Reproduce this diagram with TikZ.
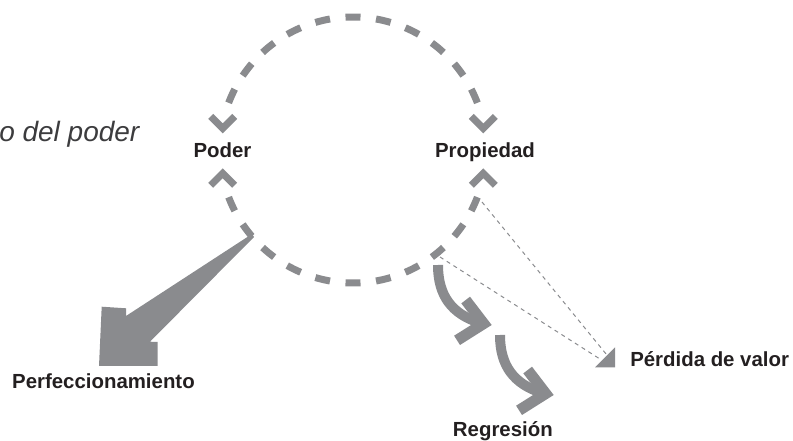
\documentclass[tikz,border=0pt]{standalone}
\usepackage{fontspec}
\setmainfont{Liberation Sans}
\definecolor{arrowgray}{RGB}{138,139,142}
\definecolor{labelink}{RGB}{35,31,32}
\definecolor{titleink}{RGB}{60,60,62}
\tikzset{
  loopdash/.style={draw=arrowgray, line width=5.25pt, line cap=butt},
  chev/.style={draw=arrowgray, line width=5.25pt, line join=miter, miter limit=10},
  tag/.style={font=\bfseries\fontsize{15.3}{18}\selectfont, text=labelink, inner sep=0pt},
  thinguide/.style={draw=arrowgray, line width=0.75pt, dash pattern=on 3pt off 3pt},
  curlshaft/.style={draw=arrowgray, line width=7.5pt},
  chevdown/.pic={\draw[chev] (-12,-12) -- (0,0) -- (12,-12);},
  chevup/.pic={\draw[chev] (-12,12) -- (0,0) -- (12,12);},
  curlarrow/.pic={
    \draw[curlshaft] (0,0) .. controls (0,31) and (14,49) .. (42,58);
    \fill[arrowgray] (53.7,60) -- (32,31.7) -- (23.3,38.4) -- (37.7,57.1)
      -- (16.1,70.7) -- (22,80) -- cycle;
  }
}
\begin{document}
\begin{tikzpicture}[x=0.75pt, y=-0.75pt]
  \useasboundingbox (0,0) rectangle (793,441);
  \coordinate (c) at (353,150);

  % dashed upper and lower arcs of the cycle
  \foreach \k in {-5,...,5} {
    \pgfmathsetmacro{\ta}{-90+13.2*\k-3.23}
    \pgfmathsetmacro{\tb}{90+13.2*\k-3.23}
    \draw[loopdash] (c) ++(\ta:133) arc[start angle=\ta, delta angle=6.46, radius=133];
    \draw[loopdash] (c) ++(\tb:133) arc[start angle=\tb, delta angle=6.46, radius=133];
  }

  % chevrons pointing at the two labels
  \pic at (222.7,128.4) {chevdown};
  \pic at (483.3,128.4) {chevdown};
  \pic at (222.7,173.3) {chevup};
  \pic at (483.3,173.3) {chevup};

  % labels
  \node[tag, anchor=base] (poder) at (222.5,157.7) {Poder};
  \node[tag, anchor=base] (propiedad) at (485,157.7) {Propiedad};
  \node[tag, anchor=base east] (perf) at (195,388.3) {Perfeccionamiento};
  \node[tag, anchor=base east] (regr) at (553,436.5) {Regresión};
  \node[tag, anchor=base west] (perdida) at (630,366.7) {Pérdida de valor};
  \node[anchor=base west, inner sep=0pt, font=\itshape\fontsize{21}{25}\selectfont,
        text=titleink] (cycletitle) at (-1,141.7) {o del poder};

  % wide wedge arrow towards Perfeccionamiento
  \fill[arrowgray] (252,234) -- (126,316) -- (126,308.3) -- (101.7,306.7)
    -- (99,366) -- (157.5,366) -- (157.5,342) -- (150,341.7) -- (254,237) -- cycle;

  % two curled arrows towards Regresión
  \pic at (438,265) {curlarrow};
  \pic at (500,335) {curlarrow};

  % loss of value marker and its two dashed guides
  \coordinate (guideA) at (440,257);
  \coordinate (guideB) at (482,202);
  \coordinate (lossA) at (601.8,360.2);
  \coordinate (lossB) at (606.9,355);
  \fill[arrowgray] (595,367.3) -- (615,367.3) -- (615,347.3) -- cycle;
  \draw[thinguide] (guideA) -- (lossA);
  \draw[thinguide] (guideB) -- (lossB);
\end{tikzpicture}
\end{document}
